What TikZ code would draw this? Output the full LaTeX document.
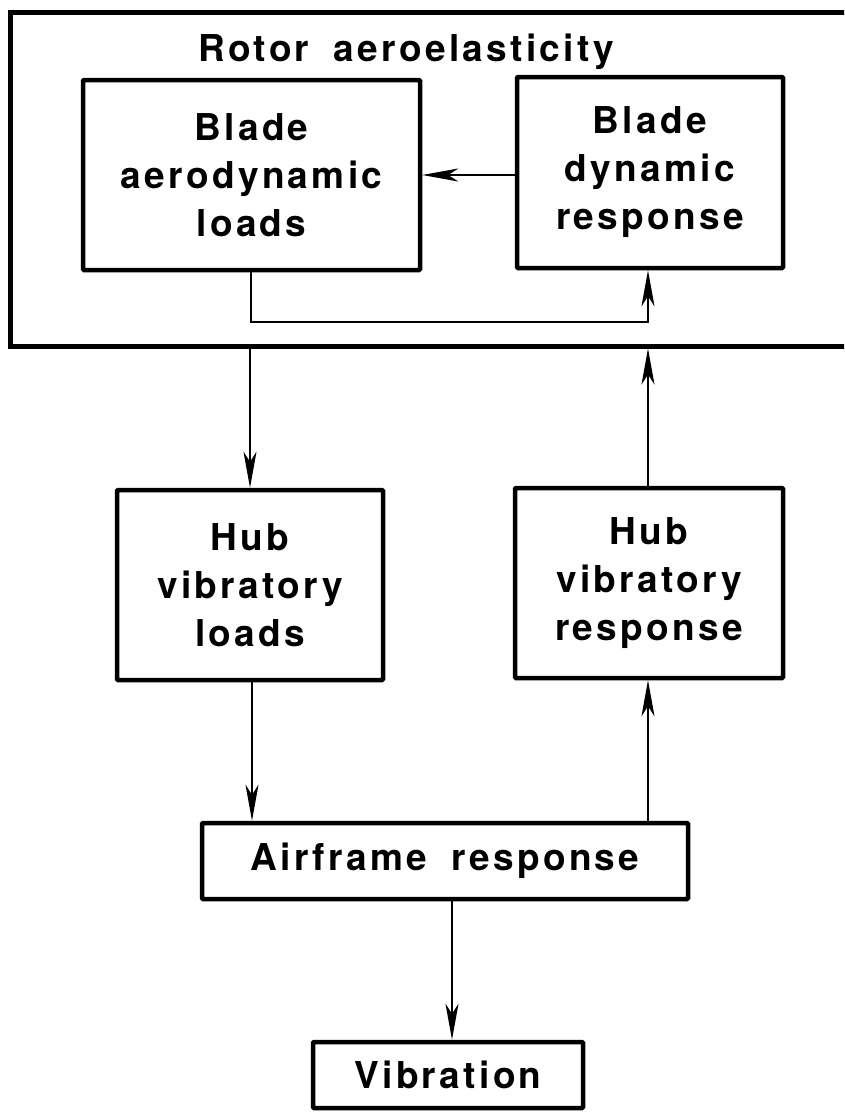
\documentclass[tikz,border=0pt]{standalone}
\usepackage{fontspec}
\newfontfamily\lblfont[LetterSpace=9,WordSpace=1.8]{TeX Gyre Heros}
\usetikzlibrary{arrows.meta}
\begin{document}
\begin{tikzpicture}[x=1pt,y=-1pt,
  lbl/.style={font={\lblfont\bfseries\fontsize{37}{48}\selectfont},align=center},
  blk/.style={lbl,draw,line width=4.5pt,inner sep=0pt,rounded corners=1pt},
  conn/.style={line width=2.5pt},
  arr/.style={conn,-{Stealth[length=36pt,width=13pt,inset=10pt]}}]
\useasboundingbox (0,0) rectangle (844,1114);
\clip (0,0) rectangle (844,1114);
\fill[white] (0,0) rectangle (844,1114);
% outer box
\node[draw,line width=5pt,minimum width=862pt,minimum height=334pt,inner sep=0pt] (rotor) at (441,179) {};
\node[lbl,anchor=base] (title) at (406,61) {Rotor aeroelasticity};
\node[blk,minimum width=337pt,minimum height=190pt] (bal) at (251.5,175) {Blade\\aerodynamic\\loads};
\node[blk,minimum width=266pt,minimum height=191pt] (bdr) at (650,172.5) {Blade\\dynamic\\response};
\node[blk,minimum width=266pt,minimum height=190pt] (hvl) at (250,585) {Hub\\vibratory\\loads};
\node[blk,minimum width=268pt,minimum height=190pt] (hvr) at (649,583) {Hub\\vibratory\\response};
\node[blk,minimum width=486pt,minimum height=76pt] (af) at (445,861) {Airframe response};
\node[blk,minimum width=270pt,minimum height=66pt] (vib) at (448,1075) {Vibration};
% connectors
\draw[arr] (bdr.west |- bal.east) -- (bal.east);
\coordinate (loopL) at (251,322);
\draw[arr] (bal.south -| loopL) -- (loopL) -| (bdr.south -| 648,0);
\draw[arr] (rotor.south -| hvl.north) -- (hvl.north);
\draw[arr] (hvr.north -| 648,0) -- (rotor.south -| 648,0);
\draw[arr] (hvl.south -| 252,0) -- (af.north -| 252,0);
\draw[arr] (af.north -| 648,0) -- (hvr.south -| 648,0);
\draw[arr] (af.south -| 452,0) -- (vib.north -| 452,0);
\end{tikzpicture}
\end{document}
